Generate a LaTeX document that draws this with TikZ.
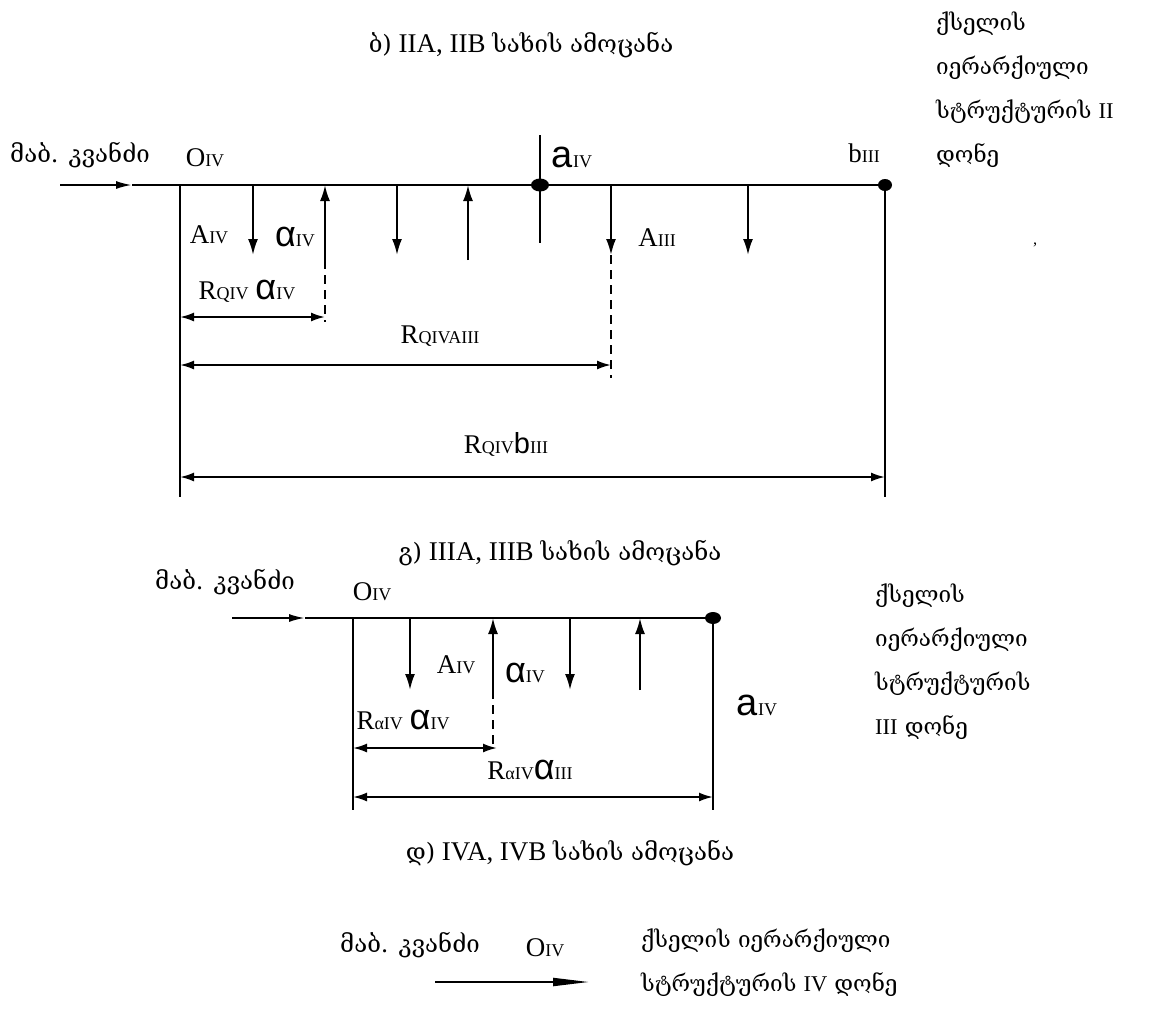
\documentclass[tikz,border=0pt]{standalone}
\usepackage{fontspec}
\setmainfont{Liberation Serif}
\newfontfamily\geo{DejaVu Serif}
\newfontfamily\sansgr{Liberation Sans}
\usetikzlibrary{arrows.meta,positioning,calc,shapes}
\newcommand{\sub}[1]{{\fontsize{18}{18}\selectfont #1}}
\newcommand{\ka}[1]{{\geo\fontsize{24}{44}\selectfont #1}}
\newcommand{\sa}{{\sansgr\fontsize{38}{38}\selectfont a}}
\newcommand{\salpha}{{\sansgr\fontsize{36}{36}\selectfont α}}
\newcommand{\sbee}{{\sansgr\fontsize{29}{29}\selectfont b}}

\begin{document}
\begin{tikzpicture}[x=1pt,y=-1pt,
  beam/.style={line width=2.6pt},
  ln/.style={line width=2pt},
  force/.style={ln,-{Latex[length=16pt,width=10pt]}},
  dimline/.style={ln,{Latex[length=14pt,width=9pt]}-{Latex[length=14pt,width=9pt]}},
  cut/.style={ln,dash pattern=on 9pt off 6pt},
  lbl/.style={inner sep=0pt,font=\fontsize{27}{30}\selectfont},
  geotext/.style={inner sep=0pt,anchor=north west,font=\geo\fontsize{22.5}{44}\selectfont,align=left},
]
  \useasboundingbox (0,0) rectangle (1167,1012);
  % level II
  \node[lbl] (title1) at (521,45) {\ka{ბ)} IIA, IIB \ka{სახის ამოცანა}};
  \node[lbl] (in1) at (80,155) {\ka{მაბ. კვანძი}};
  \node[lbl] (o1lbl) at (205,158) {O\sub{IV}};
  \coordinate (s1) at (60,185);
  \coordinate (o1) at (180,185);
  \coordinate (a1) at (540,185);
  \coordinate (b1) at (885,185);
  \draw[ln,-{Latex[length=16pt,width=8pt]}] (s1) -- (132,185);
  \draw[beam] (132,185) -- (b1);
  \draw[ln] (o1) -- (180,497);
  \draw[ln] (b1) -- (885,497);
  \draw[ln] (540,135) -- (540,243);
  \fill (a1) ellipse (9 and 6.5);
  \fill (b1) ellipse (7 and 6);
  \foreach \x in {253,397,611,748} \draw[force] (\x,185) -- (\x,255);
  \foreach \x in {325,468} \draw[force] (\x,260) -- (\x,185);
  \draw[cut] (325,260) -- (325,322);
  \draw[cut] (611,255) -- (611,378);
  \node[lbl] (aiv1) at (209,235) {A\sub{IV}};
  \node[lbl] (alpha1) at (295,237) {\salpha\sub{IV}};
  \node[lbl] (a1lbl) at (572,157) {\sa\sub{IV}};
  \node[lbl] (aiii1) at (657,238) {A\sub{III}};
  \node[lbl] (b1lbl) at (864,153) {b\sub{III}};
  \draw[dimline] (o1 |- 0,317) -- (325,317);
  \node[lbl] (r11) at (247,291) {R\sub{QIV} \salpha\sub{IV}};
  \draw[dimline] (o1 |- 0,365) -- (611,365);
  \node[lbl] (r12) at (440,336) {R\sub{QIVAIII}};
  \draw[dimline] (o1 |- 0,477) -- (b1 |- 0,477);
  \node[lbl] (r13) at (506,444) {R\sub{QIV}\sbee\sub{III}};
  \node[geotext] (lev2) at (936,12) {ქსელის\\იერარქიული\\სტრუქტურის {\rmfamily II}\\დონე};
  \node[inner sep=0pt,font=\fontsize{16}{16}\selectfont] (mark) at (1035,248) {'};
  % level III
  \node[lbl] (title2) at (560,553) {\ka{გ)} IIIA, IIIB \ka{სახის ამოცანა}};
  \node[lbl] (in2) at (225,582) {\ka{მაბ. კვანძი}};
  \node[lbl] (o2lbl) at (372,592) {O\sub{IV}};
  \coordinate (s2) at (232,618);
  \coordinate (o2) at (353,618);
  \coordinate (e2) at (713,618);
  \draw[ln,-{Latex[length=16pt,width=8pt]}] (s2) -- (305,618);
  \draw[beam] (305,618) -- (e2);
  \draw[ln] (o2) -- (353,810);
  \draw[ln] (e2) -- (713,810);
  \fill (e2) ellipse (8 and 6);
  \foreach \x in {410,570} \draw[force] (\x,618) -- (\x,690);
  \foreach \x in {493,640} \draw[force] (\x,690) -- (\x,618);
  \draw[cut] (493,690) -- (493,748);
  \node[lbl] (aiv2) at (456,665) {A\sub{IV}};
  \node[lbl] (alpha2) at (525,673) {\salpha\sub{IV}};
  \node[lbl] (a2lbl) at (757,705) {\sa\sub{IV}};
  \draw[dimline] (o2 |- 0,748) -- (497,748);
  \node[lbl] (r21) at (403,720) {R\sub{α}\sub{IV} \salpha\sub{IV}};
  \draw[dimline] (o2 |- 0,797) -- (e2 |- 0,797);
  \node[lbl] (r22) at (530,770) {R\sub{α}\sub{IV}\salpha\sub{III}};
  \node[geotext] (lev3) at (875,584) {ქსელის\\იერარქიული\\სტრუქტურის\\{\rmfamily III} დონე};
  % level IV
  \node[lbl] (title3) at (570,853) {\ka{დ)} IVA, IVB \ka{სახის ამოცანა}};
  \node[lbl] (in3) at (410,945) {\ka{მაბ. კვანძი}};
  \node[lbl] (o3lbl) at (545,948) {O\sub{IV}};
  \coordinate (s3) at (435,982);
  \coordinate (e3) at (589,982);
  \draw[ln,-{Triangle[length=36pt,width=8pt]}] (s3) -- (e3);
  \node[geotext] (lev4) at (641,929) {ქსელის იერარქიული\\სტრუქტურის {\rmfamily IV} დონე};
\end{tikzpicture}
\end{document}
